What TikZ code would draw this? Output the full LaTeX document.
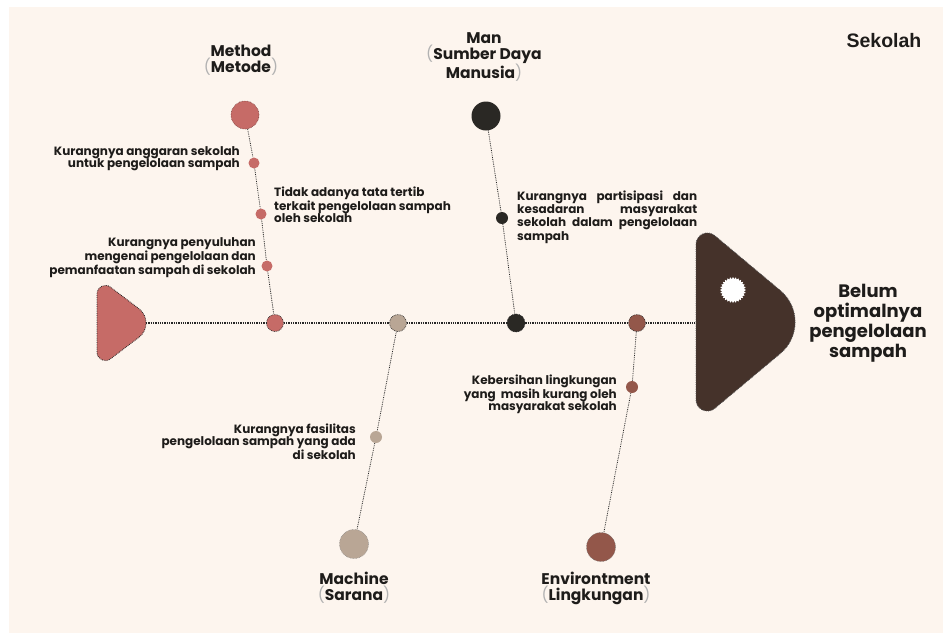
\documentclass[tikz,border=0pt]{standalone}
\usepackage{fontspec}
\setmainfont{Poppins}
\newfontfamily\sekfont{Liberation Sans}
\usetikzlibrary{shapes.geometric}
\definecolor{bg}{HTML}{FDF5EE}
\definecolor{pinkc}{HTML}{C66B67}
\definecolor{beigec}{HTML}{B9A695}
\definecolor{blackc}{HTML}{2A2824}
\definecolor{brownc}{HTML}{93574A}
\definecolor{headc}{HTML}{45322A}
\definecolor{txt}{HTML}{1E1C1A}
\newcommand{\pl}{{\color{gray!60}\mdseries(}}
\newcommand{\pr}{{\color{gray!60}\mdseries)}}
\begin{document}
\begin{tikzpicture}[x=1pt,y=-1pt,
  dotc/.style={circle,inner sep=0pt,minimum size=#1,draw=black!85,densely dotted,line width=0.7pt},
  conn/.style={draw=black!85,densely dotted,line width=0.8pt},
  spine/.style={draw=black!85,densely dotted,line width=1.3pt},
  small/.style={inner sep=0pt,text=txt,font=\bfseries\fontsize{12}{12.2}\selectfont},
  title/.style={inner sep=0pt,text=txt,align=center,font=\bfseries\fontsize{15.5}{16}\selectfont}]
\useasboundingbox (0,0) rectangle (943,633);
\fill[white] (0,0) rectangle (943,633);
\fill[bg] (9,7) rectangle (943,633);

% tail
\filldraw[fill=pinkc,draw=black!85,densely dotted,line width=0.8pt]
  (97,323) -- (97,293.8) .. controls (97,286.9) and (104.9,282.9) .. (110.4,287.1)
  -- (138.8,308.6) .. controls (148.4,315.8) and (148.4,330.2) .. (138.8,337.4)
  -- (110.4,358.9) .. controls (104.9,363.1) and (97,359.1) .. (97,352.2) -- cycle;
\coordinate (tail) at (146,323);

% head
\filldraw[fill=headc,draw=black!70,densely dotted,line width=0.8pt]
  (696,322) -- (696,244.4) .. controls (696,234.7) and (707.3,229.4) .. (714.7,235.6)
  -- (780.4,290.6) .. controls (800,307) and (800,337) .. (780.4,353.4)
  -- (714.7,408.4) .. controls (707.3,414.6) and (696,409.3) .. (696,399.6) -- cycle;
\coordinate (head) at (696,323);
\node[star,star points=28,star point ratio=1.18,minimum size=26pt,inner sep=0pt,fill=white] (gear) at (733,290) {};

% spine nodes
\node[dotc=17pt,fill=pinkc] (s1) at (275,323) {};
\node[dotc=17pt,fill=beigec] (s2) at (398,323) {};
\node[dotc=18pt,fill=blackc] (s3) at (516,323) {};
\node[dotc=17pt,fill=brownc] (s4) at (637,323) {};

\draw[spine] (tail) -- (s1) -- (s2) -- (s3) -- (s4) -- (head);

% method
\node[circle,inner sep=0pt,minimum size=28pt,fill=pinkc,draw=pinkc!60!black,densely dotted,line width=0.6pt] (m0) at (245,115) {};
\node[circle,inner sep=0pt,minimum size=11pt,fill=pinkc] (m1) at (254,163) {};
\node[circle,inner sep=0pt,minimum size=11pt,fill=pinkc] (m2) at (261,214) {};
\node[circle,inner sep=0pt,minimum size=11pt,fill=pinkc] (m3) at (267,266) {};
\draw[conn] (m0) -- (m1) -- (m2) -- (m3) -- (s1);

% man
\node[circle,inner sep=0pt,minimum size=29pt,fill=blackc] (h0) at (486,116) {};
\node[circle,inner sep=0pt,minimum size=12pt,fill=blackc] (h1) at (502,218) {};
\draw[conn] (h0) -- (h1) -- (s3);

% machine
\node[circle,inner sep=0pt,minimum size=29pt,fill=beigec,draw=black!50,densely dotted,line width=0.5pt] (c0) at (354,544) {};
\node[circle,inner sep=0pt,minimum size=12pt,fill=beigec] (c1) at (376,437) {};
\draw[conn] (s2) -- (c1) -- (c0);

% environment
\node[circle,inner sep=0pt,minimum size=29pt,fill=brownc,draw=black!60,densely dotted,line width=0.5pt] (e0) at (601,547) {};
\node[circle,inner sep=0pt,minimum size=12pt,fill=brownc] (e1) at (632,387) {};
\draw[conn] (s4) -- (e1) -- (e0);

% titles
\node[title] (tm) at (241,60) {Method\\\pl Metode\pr};
\node[title] (th) at (484,57) {Man\\\pl Sumber Daya\\Manusia\pr};
\node[title] (tc) at (354,588) {Machine\\\pl Sarana\pr};
\node[title] (te) at (596,588) {Environtment\\\pl Lingkungan\pr};
\node[inner sep=0pt,text=txt,font=\sekfont\bfseries\fontsize{19.5}{22}\selectfont] (sek) at (884,41) {Sekolah};
\node[inner sep=0pt,text=txt,align=center,font=\bfseries\fontsize{18}{20}\selectfont] (eff) at (868,323) {Belum\\optimalnya\\pengelolaan\\sampah};

% causes
\node[small,align=right,anchor=east] (t1) at (240,159) {Kurangnya anggaran sekolah\\untuk pengelolaan sampah};
\node[small,align=left,anchor=west] (t2) at (274,205) {Tidak adanya tata tertib\\terkait pengelolaan sampah\\oleh sekolah};
\node[small,align=right,anchor=east] (t3) at (256,258) {Kurangnya penyuluhan\\mengenai pengelolaan dan\\pemanfaatan sampah di sekolah};
\node[small,align=left,anchor=west,font=\bfseries\fontsize{12}{13.2}\selectfont] (t4) at (517,217) {\makebox[180pt][s]{Kurangnya partisipasi dan}\\\makebox[180pt][s]{kesadaran masyarakat}\\\makebox[180pt][s]{sekolah\ dalam pengelolaan}\\sampah};
\node[small,align=right,anchor=east] (t5) at (356,442) {Kurangnya fasilitas\\pengelolaan sampah yang ada\\di sekolah};
\node[small,align=right,anchor=east] (t6) at (617,394) {Kebersihan lingkungan\\yang\ \ masih kurang oleh\\masyarakat sekolah};
\end{tikzpicture}
\end{document}
